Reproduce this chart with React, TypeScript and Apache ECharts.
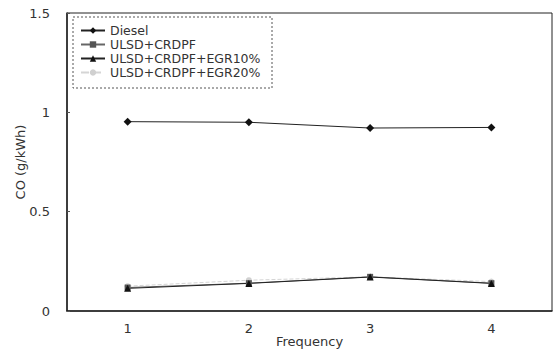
import React, { useEffect, useRef } from "react";
import * as echarts from "echarts";

const categories = ["1", "2", "3", "4"];
const diesel = [0.953, 0.95, 0.921, 0.924];
const ulsdCrdpf = [0.118, 0.14, 0.172, 0.14];
const egr10 = [0.114, 0.139, 0.171, 0.139];
const egr20 = [0.125, 0.155, 0.172, 0.148];
const yTicks = [0, 0.5, 1, 1.5];

export default function App() {
  const ref = useRef<HTMLDivElement>(null);
  useEffect(() => {
    if (!ref.current) return;
    const chart = echarts.init(ref.current, undefined, { renderer: "svg" });
    const font = "DejaVu Sans, Verdana, sans-serif";
    const txt = "#333";
    chart.setOption({
      animation: false,
      backgroundColor: "#fff",
      textStyle: { fontFamily: font },
      grid: {
        left: 67,
        right: 1,
        top: 13,
        bottom: 46,
        show: true,
        borderColor: "#222",
        borderWidth: 1,
      },
      legend: {
        orient: "vertical",
        left: 75,
        top: 19,
        itemWidth: 24,
        itemHeight: 8,
        itemGap: 1,
        textStyle: { fontFamily: font, fontSize: 12.5, lineHeight: 13, color: txt },
        data: ["Diesel", "ULSD+CRDPF", "ULSD+CRDPF+EGR10%", "ULSD+CRDPF+EGR20%"],
      },
      graphic: [
        {
          type: "rect",
          shape: { x: 73, y: 17, width: 199, height: 71 },
          style: { fill: "none", stroke: "#555", lineWidth: 1, lineDash: [2, 2] },
          z: 10,
        },
      ],
      xAxis: {
        type: "category",
        data: categories,
        boundaryGap: true,
        name: "Frequency",
        nameLocation: "middle",
        nameGap: 24,
        nameMoveOverlap: false,
        nameTextStyle: { fontFamily: font, fontSize: 13, color: txt },
        axisLine: { lineStyle: { color: "#222", width: 1.5 } },
        axisTick: { inside: true, length: 3, lineStyle: { color: "#555" } },
        axisLabel: { fontFamily: font, fontSize: 13, color: txt, margin: 11 },
        splitLine: { show: false },
      },
      yAxis: {
        type: "value",
        min: yTicks[0],
        max: yTicks[yTicks.length - 1],
        interval: 0.5,
        name: "CO (g/kWh)",
        nameLocation: "middle",
        nameGap: 40,
        nameMoveOverlap: false,
        nameTextStyle: { fontFamily: font, fontSize: 13, color: txt },
        axisLine: { show: true, lineStyle: { color: "#222", width: 1.5 } },
        axisTick: { show: true, inside: true, length: 3, lineStyle: { color: "#555" } },
        axisLabel: { fontFamily: font, fontSize: 13, color: txt, margin: 17 },
        splitLine: { show: false },
      },
      series: [
        {
          name: "ULSD+CRDPF+EGR20%",
          type: "line",
          data: egr20,
          symbol: "circle",
          symbolSize: 6,
          itemStyle: { color: "#d0d0d0" },
          lineStyle: { color: "#d5d5d5", width: 1, type: "dashed" },
        },
        {
          name: "ULSD+CRDPF",
          type: "line",
          data: ulsdCrdpf,
          symbol: "rect",
          symbolSize: 6,
          itemStyle: { color: "#555" },
          lineStyle: { color: "#666", width: 1 },
        },
        {
          name: "ULSD+CRDPF+EGR10%",
          type: "line",
          data: egr10,
          symbol: "triangle",
          symbolSize: 7,
          itemStyle: { color: "#111" },
          lineStyle: { color: "#222", width: 1 },
        },
        {
          name: "Diesel",
          type: "line",
          data: diesel,
          symbol: "diamond",
          symbolSize: 8,
          itemStyle: { color: "#111" },
          lineStyle: { color: "#222", width: 1 },
        },
      ],
    });
    return () => chart.dispose();
  }, []);
  return <div ref={ref} style={{ width: 553, height: 357, position: "absolute", left: 0, top: 0 }} />;
}
